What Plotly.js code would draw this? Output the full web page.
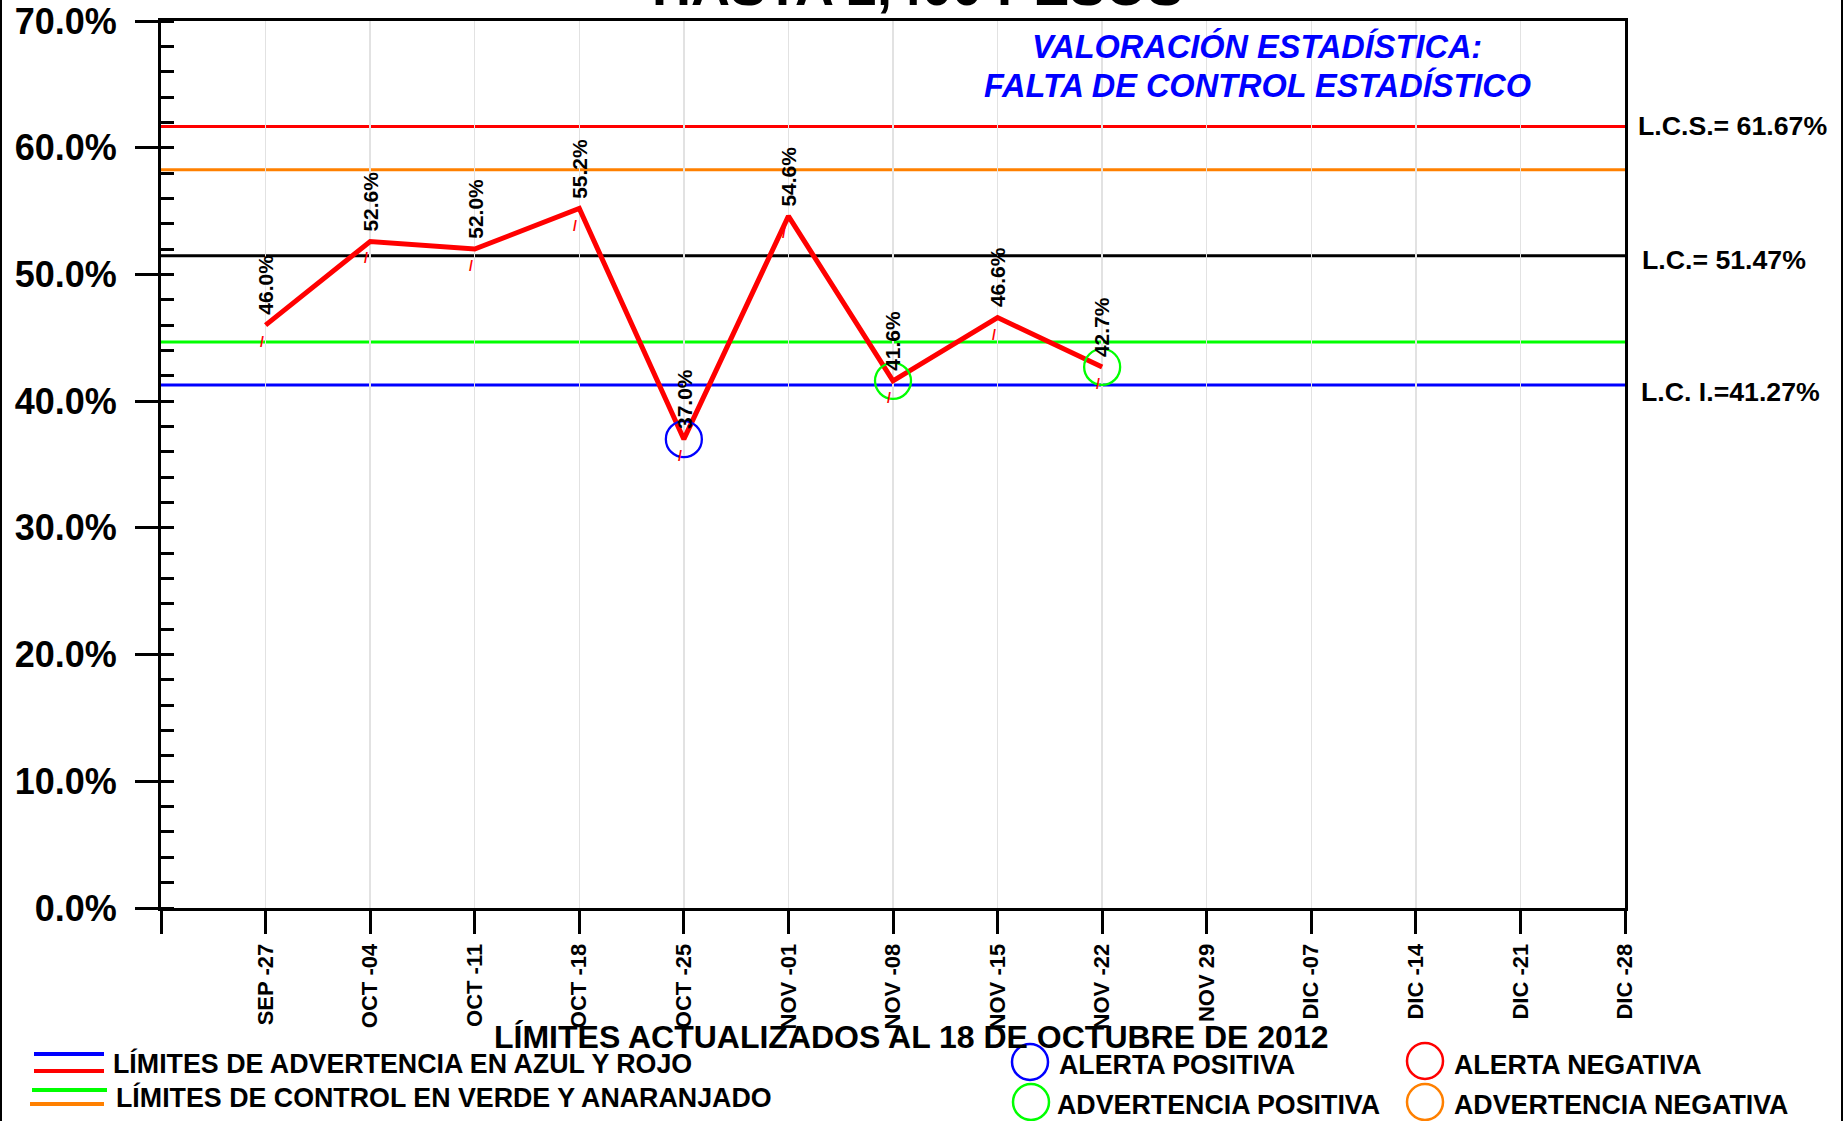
<!DOCTYPE html>
<html>
<head>
<meta charset="utf-8">
<script src="https://cdn.plot.ly/plotly-3.0.1.min.js"></script>
<style>
  html, body { margin: 0; padding: 0; background: #ffffff; }
  #chart { width: 1843px; height: 1121px; }
</style>
</head>
<body>
<div id="chart"></div>
<script>
// ---------------- DATA ----------------
const categories = ['SEP -27', 'OCT -04', 'OCT -11', 'OCT -18', 'OCT -25', 'NOV -01', 'NOV -08',
                    'NOV -15', 'NOV -22', 'NOV 29', 'DIC -07', 'DIC -14', 'DIC -21', 'DIC -28'];
const values = [46.0, 52.6, 52.0, 55.2, 37.0, 54.6, 41.6, 46.6, 42.7];
const limitUpper = 61.67;     // L.C.S.
const limitCenter = 51.47;    // L.C.
const limitLower = 41.27;     // L.C.I.
const warnUpper = 58.27;      // orange
const warnLower = 44.67;      // green
const alertCategories = ['OCT -25', 'NOV -08', 'NOV -22'];
const alertColors = ['#0000ff', '#00ff00', '#00ff00'];
const yTickValues = [0, 10, 20, 30, 40, 50, 60, 70];
const chartTitle = 'HASTA 2,400 PESOS';
const noteText = ['VALORACIÓN ESTADÍSTICA:', 'FALTA DE CONTROL ESTADÍSTICO'];
const footerText = 'LÍMITES ACTUALIZADOS AL 18 DE OCTUBRE DE 2012';
const legendLineTexts = ['LÍMITES DE ADVERTENCIA EN AZUL Y ROJO', 'LÍMITES DE CONTROL EN VERDE Y ANARANJADO'];
const legendCircleTexts = ['ALERTA POSITIVA', 'ADVERTENCIA POSITIVA', 'ALERTA NEGATIVA', 'ADVERTENCIA NEGATIVA'];

// ---------------- GEOMETRY ----------------
const W = 1843, H = 1121;
const M = { l: 161, r: 218, t: 21, b: 213 };
const PW = W - M.l - M.r, PH = H - M.t - M.b;
const px = x => (x - M.l) / PW;          // page px -> paper x
const py = y => (H - M.b - y) / PH;      // page px -> paper y

const FONT = 'Liberation Sans, Arial, Helvetica, sans-serif';
const RED = '#ff0000', ORANGE = '#ff8000', GREEN = '#00ff00', BLUE = '#0000ff';

const pos = c => categories.indexOf(c) + 1;
const xs = values.map((v, i) => i + 1);

// ---------------- TRACES ----------------
const traces = [
  {
    type: 'scatter', mode: 'lines',
    x: xs, y: values,
    line: { color: RED, width: 5 },
    hoverinfo: 'skip', showlegend: false
  },
  {
    type: 'scatter', mode: 'markers',
    x: alertCategories.map(pos),
    y: alertCategories.map(c => values[categories.indexOf(c)]),
    marker: { symbol: 'circle-open', size: 36, color: alertColors, line: { width: 2.3, color: alertColors } },
    hoverinfo: 'skip', showlegend: false
  }
];

// ---------------- SHAPES ----------------
const hline = (v, color) => ({
  type: 'line', xref: 'paper', yref: 'y', x0: 0, x1: 1, y0: v, y1: v,
  line: { color: color, width: 3 }, layer: 'between'
});
const shapes = [
  hline(limitUpper, RED),
  hline(warnUpper, ORANGE),
  hline(limitCenter, '#000000'),
  hline(warnLower, GREEN),
  hline(limitLower, BLUE),
  // legend line samples
  { type: 'line', xref: 'paper', yref: 'paper', x0: px(34), x1: px(104), y0: py(1054), y1: py(1054), line: { color: BLUE, width: 4 } },
  { type: 'line', xref: 'paper', yref: 'paper', x0: px(34), x1: px(104), y0: py(1071), y1: py(1071), line: { color: RED, width: 4 } },
  { type: 'line', xref: 'paper', yref: 'paper', x0: px(32), x1: px(107), y0: py(1090), y1: py(1090), line: { color: GREEN, width: 4 } },
  { type: 'line', xref: 'paper', yref: 'paper', x0: px(30), x1: px(104), y0: py(1104), y1: py(1104), line: { color: ORANGE, width: 4 } },
  // page frame lines (left / right edges)
  { type: 'line', xref: 'paper', yref: 'paper', x0: px(1), x1: px(1), y0: py(0), y1: py(H), line: { color: '#000000', width: 2 } },
  { type: 'line', xref: 'paper', yref: 'paper', x0: px(W - 1), x1: px(W - 1), y0: py(0), y1: py(H), line: { color: '#000000', width: 2 } }
];
const legendCircles = [
  { cx: 1030, cy: 1062, color: BLUE },
  { cx: 1031, cy: 1102, color: GREEN },
  { cx: 1425, cy: 1061, color: RED },
  { cx: 1425, cy: 1102, color: ORANGE }
];
legendCircles.forEach(c => {
  shapes.push({
    type: 'circle', xref: 'paper', yref: 'paper',
    x0: px(c.cx - 18), x1: px(c.cx + 18), y0: py(c.cy + 18), y1: py(c.cy - 18),
    line: { color: c.color, width: 2.5 }
  });
});

// ---------------- ANNOTATIONS ----------------
const annotations = [];
// data labels (rotated)
values.forEach((v, i) => {
  annotations.push({
    x: xs[i], y: v, xref: 'x', yref: 'y', text: v.toFixed(1) + '%',
    textangle: -90, showarrow: false, xanchor: 'center', yanchor: 'bottom', yshift: 8,
    font: { family: FONT, size: 21, color: '#000000', weight: 'bold' }
  });
  annotations.push({
    x: xs[i], y: v, xref: 'x', yref: 'y', text: '/',
    showarrow: false, xanchor: 'center', yanchor: 'middle', yshift: -17, xshift: -4,
    font: { family: FONT, size: 14, color: RED, weight: 'bold' }
  });
});
// right side limit labels
[['L.C.S.= ' + limitUpper.toFixed(2) + '%', limitUpper],
 ['L.C.= ' + limitCenter.toFixed(2) + '%', limitCenter],
 ['L.C. I.=' + limitLower.toFixed(2) + '%', limitLower]].forEach(([t, v], k) => {
  annotations.push({
    x: 1, y: v, xref: 'paper', yref: 'y', text: t, showarrow: false,
    xanchor: 'left', yanchor: 'middle', xshift: [11, 15, 14][k], yshift: [1, -4, -7][k],
    font: { family: FONT, size: 26.7, color: '#000000', weight: 'bold' }
  });
});
// blue note (two lines)
noteText.forEach((t, k) => {
  annotations.push({
    x: px(1257), y: py([47, 85][k]), xref: 'paper', yref: 'paper', text: t,
    showarrow: false, xanchor: 'center', yanchor: 'middle', align: 'center',
    font: { family: FONT, size: 32.5, color: BLUE, weight: 'bold', style: 'italic' }
  });
});
// clipped title (cut by the top edge, as in the original)
annotations.push({
  x: px(917), y: py(18), xref: 'paper', yref: 'paper', text: chartTitle,
  showarrow: false, xanchor: 'center', yanchor: 'bottom',
  font: { family: FONT, size: 54, color: '#000000', weight: 'bold' }
});
// footer
annotations.push({
  x: px(911), y: py(1037), xref: 'paper', yref: 'paper', text: footerText,
  showarrow: false, xanchor: 'center', yanchor: 'middle',
  font: { family: FONT, size: 32, color: '#000000', weight: 'bold' }
});
// legend texts
[[legendLineTexts[0], 111, 1063], [legendLineTexts[1], 114, 1097],
 [legendCircleTexts[0], 1057, 1065], [legendCircleTexts[1], 1055, 1105],
 [legendCircleTexts[2], 1452, 1065], [legendCircleTexts[3], 1452, 1105]].forEach(([t, x, y]) => {
  annotations.push({
    x: px(x), y: py(y), xref: 'paper', yref: 'paper', text: t, showarrow: false,
    xanchor: 'left', yanchor: 'middle',
    font: { family: FONT, size: 26.8, color: '#000000', weight: 'bold' }
  });
});

// ---------------- LAYOUT ----------------
const tickPositions = [0].concat(categories.map((c, i) => i + 1));
const layout = {
  width: W, height: H,
  margin: { l: M.l, r: M.r, t: M.t, b: M.b, pad: 0 },
  paper_bgcolor: '#ffffff', plot_bgcolor: '#ffffff',
  showlegend: false,
  xaxis: {
    range: [0, categories.length], fixedrange: true,
    tickmode: 'array', tickvals: tickPositions, ticktext: [''].concat(categories),
    tickangle: -90, ticks: 'outside', ticklen: 23, tickwidth: 3, tickcolor: '#000000',
    ticklabelstandoff: 1,
    showline: true, linewidth: 3, linecolor: '#000000', mirror: true,
    showgrid: true, gridcolor: '#e2e2e2', gridwidth: 1.5, zeroline: false,
    tickfont: { family: FONT, size: 22, color: '#000000', weight: 'bold' }
  },
  yaxis: {
    range: [0, 70], fixedrange: true,
    tickmode: 'array', tickvals: yTickValues, ticktext: yTickValues.map(v => v.toFixed(1) + '%'),
    ticks: 'outside', ticklen: 23, tickwidth: 3, tickcolor: '#000000',
    ticklabelstandoff: 11,
    minor: { dtick: 2, ticks: 'inside', ticklen: 13, tickwidth: 3, tickcolor: '#000000', showgrid: false },
    showline: true, linewidth: 3, linecolor: '#000000', mirror: true,
    showgrid: false, zeroline: false,
    tickfont: { family: FONT, size: 36, color: '#000000', weight: 'bold' }
  },
  shapes: shapes,
  annotations: annotations
};

Plotly.newPlot('chart', traces, layout, { displayModeBar: false, staticPlot: true });
</script>
</body>
</html>
